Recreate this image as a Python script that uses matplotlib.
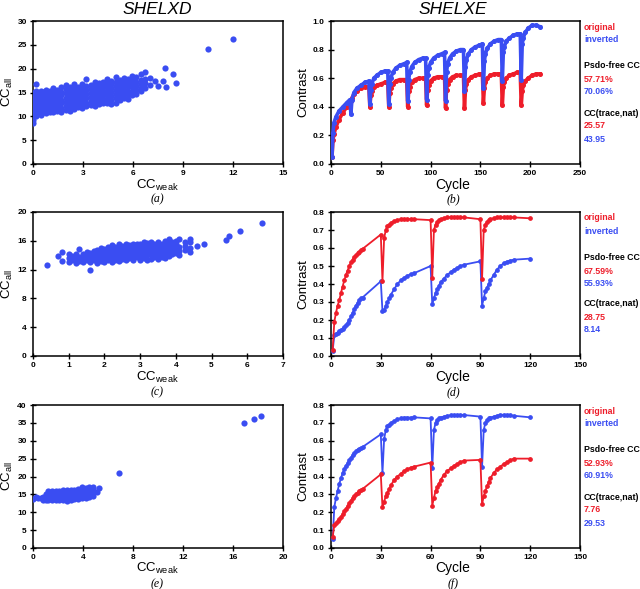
import matplotlib
matplotlib.use('Agg')
import matplotlib.pyplot as plt

plt.rcParams['font.family'] = ['Liberation Sans', 'DejaVu Sans']
plt.rcParams['mathtext.default'] = 'regular'

RED = '#ee1d2a'
BLUE = '#3a4df2'

# ---------------- SHELXD scatter data (CC_weak, CC_all) ----------------
a_cols = [0.0, 0.05, 0.15, 0.3, 0.45, 0.6, 0.8, 1.0, 1.2, 1.45, 1.7, 1.95, 2.2, 2.45,
          2.7, 2.95, 3.2, 3.45, 3.7, 3.95, 4.2, 4.45, 4.7, 4.95, 5.2, 5.45, 5.7, 5.95,
          6.2, 6.45, 6.7, 7.0, 7.3, 7.5, 7.8, 7.9, 8.0, 8.4, 8.6, 10.5, 12.0]
a_vals = [[8.7, 9.3, 10.2, 11.0, 11.8, 12.6, 13.4, 14.2, 15.0],
          [10.6, 12.1, 13.0, 13.9, 14.8],
          [10.0, 11.4, 12.3, 13.6, 14.5, 15.4, 16.8],
          [10.8, 11.7, 12.5, 13.3, 14.1, 15.0],
          [10.3, 11.2, 12.0, 12.9, 13.7, 14.6, 15.3],
          [10.9, 11.8, 12.6, 13.5, 14.3, 15.1],
          [10.6, 11.5, 12.3, 13.2, 14.0, 14.8, 15.6],
          [11.0, 11.9, 12.7, 13.6, 14.4, 15.3],
          [10.9, 11.6, 12.5, 13.3, 14.2, 15.0, 15.9],
          [11.2, 12.1, 12.9, 13.8, 14.6, 15.5],
          [11.0, 11.8, 12.7, 13.5, 14.4, 15.2, 16.1],
          [11.4, 12.2, 13.1, 13.9, 14.8, 15.7, 16.5],
          [11.2, 12.0, 12.9, 13.7, 14.5, 15.4, 16.2],
          [11.6, 12.5, 13.3, 14.2, 15.0, 15.9, 16.7],
          [11.9, 12.7, 13.6, 14.4, 15.3, 16.1],
          [11.7, 12.6, 13.4, 14.3, 15.1, 16.0, 16.8],
          [12.1, 12.9, 13.8, 14.6, 15.5, 16.3, 17.9],
          [12.4, 13.2, 14.1, 14.9, 15.8, 16.6],
          [12.2, 13.1, 13.9, 14.8, 15.6, 16.5, 17.3],
          [12.6, 13.5, 14.3, 15.2, 16.0, 16.9],
          [12.9, 13.7, 14.6, 15.4, 16.3, 17.1],
          [12.8, 13.6, 14.5, 15.3, 16.2, 17.0, 17.8],
          [12.5, 13.4, 14.2, 15.1, 15.9, 16.8, 17.5],
          [12.8, 13.8, 14.6, 15.5, 16.3, 17.2, 18.3],
          [13.5, 14.3, 15.2, 16.0, 16.9, 17.6],
          [13.9, 14.7, 15.6, 16.4, 17.3, 18.0],
          [13.7, 14.6, 15.4, 16.3, 17.1, 17.9],
          [14.4, 15.2, 16.1, 16.9, 17.8, 18.5],
          [14.7, 15.6, 16.4, 17.2, 18.2],
          [15.3, 16.0, 16.8, 17.7, 18.8],
          [16.0, 17.0, 17.9, 19.2],
          [16.5, 18.0], [17.4], [16.3], [17.5], [20.2], [16.1], [18.8], [16.9],
          [24.2], [26.2]]

c_cols = [0.4, 0.7, 0.8, 1.0, 1.1, 1.2, 1.3, 1.4, 1.5, 1.6, 1.7, 1.8, 1.9, 2.0, 2.1,
          2.2, 2.3, 2.4, 2.5, 2.6, 2.7, 2.8, 2.9, 3.0, 3.1, 3.2, 3.3, 3.4, 3.5, 3.6,
          3.7, 3.8, 3.9, 4.0, 4.1, 4.25, 4.4, 4.6, 4.8, 5.4, 5.5, 5.8, 6.4]
c_vals = [[12.6], [13.9], [13.2, 14.4],
          [13.0, 13.6, 14.2], [13.3, 13.9], [12.9, 13.5, 14.1], [13.2, 13.8, 14.8],
          [13.0, 13.6, 14.2], [13.3, 13.9, 14.5], [12.0, 13.1, 13.7, 14.3],
          [13.4, 14.0, 14.6], [12.9, 13.5, 14.1, 14.7], [13.2, 13.8, 14.4, 15.0],
          [13.0, 13.6, 14.2, 14.8], [13.3, 13.9, 14.5, 15.1],
          [13.1, 13.7, 14.3, 14.9, 15.4], [13.4, 14.0, 14.6, 15.2],
          [13.2, 13.8, 14.4, 15.0, 15.5], [13.5, 14.1, 14.7, 15.3],
          [13.3, 13.9, 14.5, 15.1, 15.5], [13.6, 14.2, 14.8, 15.4],
          [13.4, 14.0, 14.6, 15.2, 15.6], [13.7, 14.3, 14.9, 15.5],
          [13.3, 13.9, 14.5, 15.1, 15.6], [13.6, 14.2, 14.8, 15.4, 15.8],
          [13.4, 14.0, 14.6, 15.2, 15.7], [13.5, 14.1, 14.7, 15.3, 15.8],
          [13.7, 14.3, 14.9, 15.5], [13.5, 14.0, 14.6, 15.2, 15.8],
          [13.8, 14.4, 15.0, 15.6], [13.6, 14.2, 14.8, 15.4, 16.0],
          [13.9, 14.5, 15.1, 15.7, 16.2], [14.1, 14.7, 15.3, 15.9],
          [14.3, 14.9, 15.5, 16.0], [14.0, 14.6, 15.2, 16.2], [14.7, 15.3, 15.8],
          [14.4, 15.0, 15.9, 16.3], [15.3], [15.6], [16.1], [16.6], [17.4], [18.5]]

e_cols = [0.0, 0.2, 0.4, 0.6, 0.8, 1.0, 1.2, 1.5, 1.8, 2.1, 2.4, 2.7, 3.0, 3.3, 3.6,
          3.9, 4.2, 4.5, 4.8, 5.1, 5.3, 6.9, 16.9, 17.7, 18.2]
e_vals = [[13.8], [14.2], [14.0], [13.9], [13.5, 14.3], [13.3, 14.1, 15.0],
          [13.4, 14.3, 15.2, 15.9], [13.3, 14.2, 15.1, 15.9], [13.5, 14.4, 15.3, 16.0],
          [13.3, 14.2, 15.1, 15.9], [13.5, 14.4, 15.3, 16.1],
          [13.2, 14.1, 15.0, 15.9, 16.3], [13.4, 14.3, 15.2, 16.1],
          [13.6, 14.5, 15.4, 16.3], [13.7, 14.6, 15.5, 16.4],
          [13.9, 14.8, 15.7, 16.6, 17.2], [14.1, 15.0, 15.9, 16.8],
          [14.4, 15.3, 16.2, 17.1], [14.6, 15.5, 16.4, 17.2], [15.8], [16.7],
          [21.1], [35.0], [36.1], [36.8]]

# ---------------- SHELXE contrast traces ----------------
b_cycle = [1, 2, 3, 5, 8, 12, 16, 19, 20, 21, 23, 26, 30, 34, 38,
           39, 40, 41, 43, 46, 50, 54, 57,
           58, 59, 60, 62, 65, 69, 73, 76,
           77, 78, 79, 81, 84, 88, 92, 95,
           96, 97, 98, 100, 103, 107, 111, 114,
           115, 116, 117, 119, 122, 126, 130, 133,
           134, 135, 136, 138, 141, 145, 149, 152,
           153, 154, 155, 157, 160, 164, 168, 171,
           172, 173, 174, 176, 179, 183, 187, 190,
           191, 192, 193, 195, 198, 202, 206, 210]
b_orig = [0.05, 0.17, 0.21, 0.26, 0.31, 0.36, 0.40, 0.43, 0.44, 0.46, 0.49, 0.51, 0.53, 0.54, 0.54,
          0.40, 0.48, 0.51, 0.54, 0.55, 0.56, 0.57, 0.57,
          0.40, 0.50, 0.53, 0.56, 0.58, 0.59, 0.59, 0.59,
          0.40, 0.51, 0.54, 0.57, 0.59, 0.60, 0.60, 0.60,
          0.41, 0.52, 0.55, 0.58, 0.60, 0.61, 0.61, 0.61,
          0.39, 0.52, 0.56, 0.59, 0.61, 0.62, 0.62, 0.62,
          0.39, 0.52, 0.56, 0.59, 0.61, 0.62, 0.63, 0.63,
          0.43, 0.53, 0.57, 0.60, 0.62, 0.63, 0.63, 0.63,
          0.41, 0.54, 0.57, 0.60, 0.62, 0.63, 0.64, 0.64,
          0.41, 0.51, 0.55, 0.58, 0.60, 0.62, 0.63, 0.63]
b_inv = [0.05, 0.22, 0.29, 0.33, 0.37, 0.40, 0.43, 0.45, 0.35, 0.45, 0.50, 0.53, 0.55, 0.57, 0.58,
         0.42, 0.52, 0.56, 0.60, 0.62, 0.64, 0.65, 0.65,
         0.42, 0.56, 0.60, 0.64, 0.67, 0.69, 0.70, 0.71,
         0.44, 0.59, 0.64, 0.68, 0.71, 0.73, 0.74, 0.74,
         0.45, 0.62, 0.67, 0.71, 0.74, 0.76, 0.77, 0.78,
         0.44, 0.64, 0.70, 0.74, 0.77, 0.79, 0.80, 0.80,
         0.51, 0.68, 0.73, 0.77, 0.80, 0.82, 0.83, 0.84,
         0.53, 0.72, 0.77, 0.81, 0.84, 0.86, 0.87, 0.87,
         0.58, 0.78, 0.82, 0.86, 0.88, 0.90, 0.91, 0.91,
         0.59, 0.84, 0.88, 0.92, 0.95, 0.97, 0.97, 0.96]

df_cycle = [1, 2, 3, 4, 5, 6, 7, 8, 9, 10, 11, 12, 13, 14, 15, 16, 17, 18, 19, 30,
            31, 32, 33, 34, 35, 36, 38, 40, 42, 44, 46, 48, 50, 60,
            61, 62, 63, 64, 65, 66, 68, 70, 72, 74, 76, 78, 80, 90,
            91, 92, 93, 94, 95, 96, 98, 100, 102, 104, 106, 108, 110, 120]
d_orig = [0.035, 0.19, 0.24, 0.28, 0.31, 0.35, 0.386, 0.42, 0.45, 0.475, 0.50, 0.52, 0.535,
          0.55, 0.56, 0.57, 0.58, 0.59, 0.595, 0.675,
          0.415, 0.655, 0.70, 0.72, 0.73, 0.74, 0.75, 0.755, 0.76, 0.76, 0.76, 0.76, 0.76, 0.755,
          0.435, 0.70, 0.73, 0.745, 0.755, 0.76, 0.765, 0.77, 0.77, 0.77, 0.77, 0.77, 0.77, 0.76,
          0.43, 0.70, 0.73, 0.745, 0.755, 0.76, 0.765, 0.77, 0.77, 0.77, 0.77, 0.77, 0.77, 0.765]
d_inv = [0.03, 0.115, 0.125, 0.13, 0.14, 0.145, 0.15, 0.16, 0.17, 0.185, 0.20, 0.22, 0.24,
         0.26, 0.28, 0.295, 0.31, 0.32, 0.325, 0.415,
         0.25, 0.255, 0.28, 0.30, 0.32, 0.34, 0.37, 0.40, 0.42, 0.435, 0.445, 0.455, 0.46, 0.50,
         0.287, 0.32, 0.35, 0.37, 0.39, 0.41, 0.43, 0.45, 0.465, 0.48, 0.49, 0.50, 0.507, 0.526,
         0.28, 0.32, 0.36, 0.38, 0.40, 0.42, 0.45, 0.48, 0.50, 0.515, 0.525, 0.53, 0.535, 0.541]
f_orig = [0.06, 0.13, 0.14, 0.15, 0.16, 0.175, 0.19, 0.205, 0.22, 0.235, 0.25, 0.265, 0.28,
          0.29, 0.30, 0.31, 0.32, 0.325, 0.33, 0.412,
          0.228, 0.26, 0.29, 0.31, 0.33, 0.35, 0.38, 0.40, 0.415, 0.43, 0.44, 0.45, 0.455, 0.478,
          0.237, 0.28, 0.32, 0.34, 0.36, 0.38, 0.41, 0.43, 0.445, 0.46, 0.47, 0.48, 0.489, 0.493,
          0.244, 0.29, 0.32, 0.345, 0.37, 0.39, 0.42, 0.44, 0.455, 0.47, 0.48, 0.49, 0.50, 0.50]
f_inv = [0.048, 0.23, 0.28, 0.32, 0.36, 0.39, 0.42, 0.44, 0.46, 0.475, 0.49, 0.505, 0.52,
         0.53, 0.54, 0.55, 0.555, 0.56, 0.565, 0.636,
         0.418, 0.61, 0.66, 0.68, 0.69, 0.70, 0.71, 0.72, 0.725, 0.73, 0.73, 0.73, 0.731, 0.725,
         0.446, 0.66, 0.70, 0.715, 0.725, 0.73, 0.735, 0.74, 0.742, 0.744, 0.744, 0.744, 0.744, 0.735,
         0.455, 0.66, 0.70, 0.715, 0.725, 0.73, 0.735, 0.74, 0.745, 0.745, 0.745, 0.742, 0.74, 0.731]

# legend / statistics text for each SHELXE panel
pfree = [('57.71%', '70.06%'), ('67.59%', '55.93%'), ('52.93%', '60.91%')]
cctrace = [('25.57', '43.95'), ('28.75', '8.14'), ('7.76', '29.53')]

W, H = 640, 589
fig = plt.figure(figsize=(W / 100, H / 100), dpi=100)


def px_axes(x0, y0, x1, y1):
    return fig.add_axes([x0 / W, 1 - y1 / H, (x1 - x0) / W, (y1 - y0) / H])


def style(ax):
    for s in ax.spines.values():
        s.set_linewidth(1.1)
    ax.tick_params(direction='inout', length=5, width=1, labelsize=6, pad=2,
                   top=False, right=False)
    for lab in ax.get_xticklabels() + ax.get_yticklabels():
        lab.set_fontweight('bold')


def flatten(cols, vals):
    xs, ys = [], []
    for x, col in zip(cols, vals):
        for y in col:
            xs.append(x)
            ys.append(y)
    return xs, ys


rows_y = [(21, 164), (212, 356), (405, 548)]
scat = [(a_cols, a_vals, 15, 3, 30, 5), (c_cols, c_vals, 7, 1, 20, 4),
        (e_cols, e_vals, 20, 4, 40, 5)]
traces = [(b_cycle, b_orig, b_inv, 250, 50, 1.0, 0.2, 2.6),
          (df_cycle, d_orig, d_inv, 150, 30, 0.8, 0.1, 1.3),
          (df_cycle, f_orig, f_inv, 150, 30, 0.8, 0.1, 1.3)]
letters = [('a', 'b'), ('c', 'd'), ('e', 'f')]
label_y = [199, 392, 584]
xlab_y = [185, 377, 568]

for i in range(3):
    y0, y1 = rows_y[i]
    # scatter panel
    ax = px_axes(33, y0, 283, y1)
    cols, vals, xmax, xstep, ymax, ystep = scat[i]
    xs, ys = flatten(cols, vals)
    ax.scatter(xs, ys, s=20, color=BLUE, linewidths=0, zorder=3)
    ax.set_xlim(0, xmax)
    ax.set_ylim(0, ymax)
    ax.set_xticks(list(range(0, xmax + 1, xstep)))
    ax.set_yticks(list(range(0, ymax + 1, ystep)))
    style(ax)
    fig.text(157 / W, 1 - xlab_y[i] / H, r'CC$_{weak}$', ha='center', va='center', fontsize=9.5)
    fig.text(7 / W, 1 - (y0 + y1) / 2 / H, r'CC$_{all}$', ha='center', va='center',
             rotation=90, fontsize=9.5)

    # contrast panel
    ax = px_axes(331, y0, 580, y1)
    cyc, orig, inv, xmax, xstep, ymax, ystep, lw = traces[i]
    ms = 2.6 if i == 0 else 2.4
    if i == 0:
        ax.plot(cyc, orig, '-o', color=RED, lw=lw, ms=ms, zorder=3)
        ax.plot(cyc, inv, '-o', color=BLUE, lw=lw, ms=ms, zorder=4)
    else:
        ax.plot(cyc, inv, '-o', color=BLUE, lw=lw, ms=ms, zorder=3)
        ax.plot(cyc, orig, '-o', color=RED, lw=lw, ms=ms, zorder=4)
    ax.set_xlim(0, xmax)
    ax.set_ylim(0, ymax)
    ax.set_xticks(list(range(0, xmax + 1, xstep)))
    n = int(round(ymax / ystep))
    ax.set_yticks([k * ystep for k in range(n + 1)])
    ax.set_yticklabels(['%.1f' % (k * ystep) for k in range(n + 1)])
    style(ax)
    fig.text(453 / W, 1 - xlab_y[i] / H, 'Cycle', ha='center', va='center', fontsize=10)
    fig.text(303 / W, 1 - (y0 + y1) / 2 / H, 'Contrast', ha='center', va='center',
             rotation=90, fontsize=9.5)

    # sub-panel letters
    for xc, let in zip((157, 453), letters[i]):
        fig.text(xc / W, 1 - label_y[i] / H, '(%s)' % let, ha='center', va='center',
                 fontsize=8.5, family='Liberation Serif', style='italic')

    # legend and statistics
    offs = [(6, 'original', RED), (19, 'inverted', BLUE), (45, 'Psdo-free CC', 'black'),
            (59, pfree[i][0], RED), (71, pfree[i][1], BLUE),
            (92, 'CC(trace,nat)', 'black'), (105, cctrace[i][0], RED),
            (118, cctrace[i][1], BLUE)]
    for dy, txt, col in offs:
        fig.text(584 / W, 1 - (y0 + dy) / H, txt, ha='left', va='center',
                 fontsize=6.3, fontweight='bold', color=col)

fig.text(157 / W, 1 - 10 / H, 'SHELXD', ha='center', va='center', fontsize=12.5, style='italic')
fig.text(453 / W, 1 - 10 / H, 'SHELXE', ha='center', va='center', fontsize=12.5, style='italic')

fig.savefig('out.png', dpi=100)
